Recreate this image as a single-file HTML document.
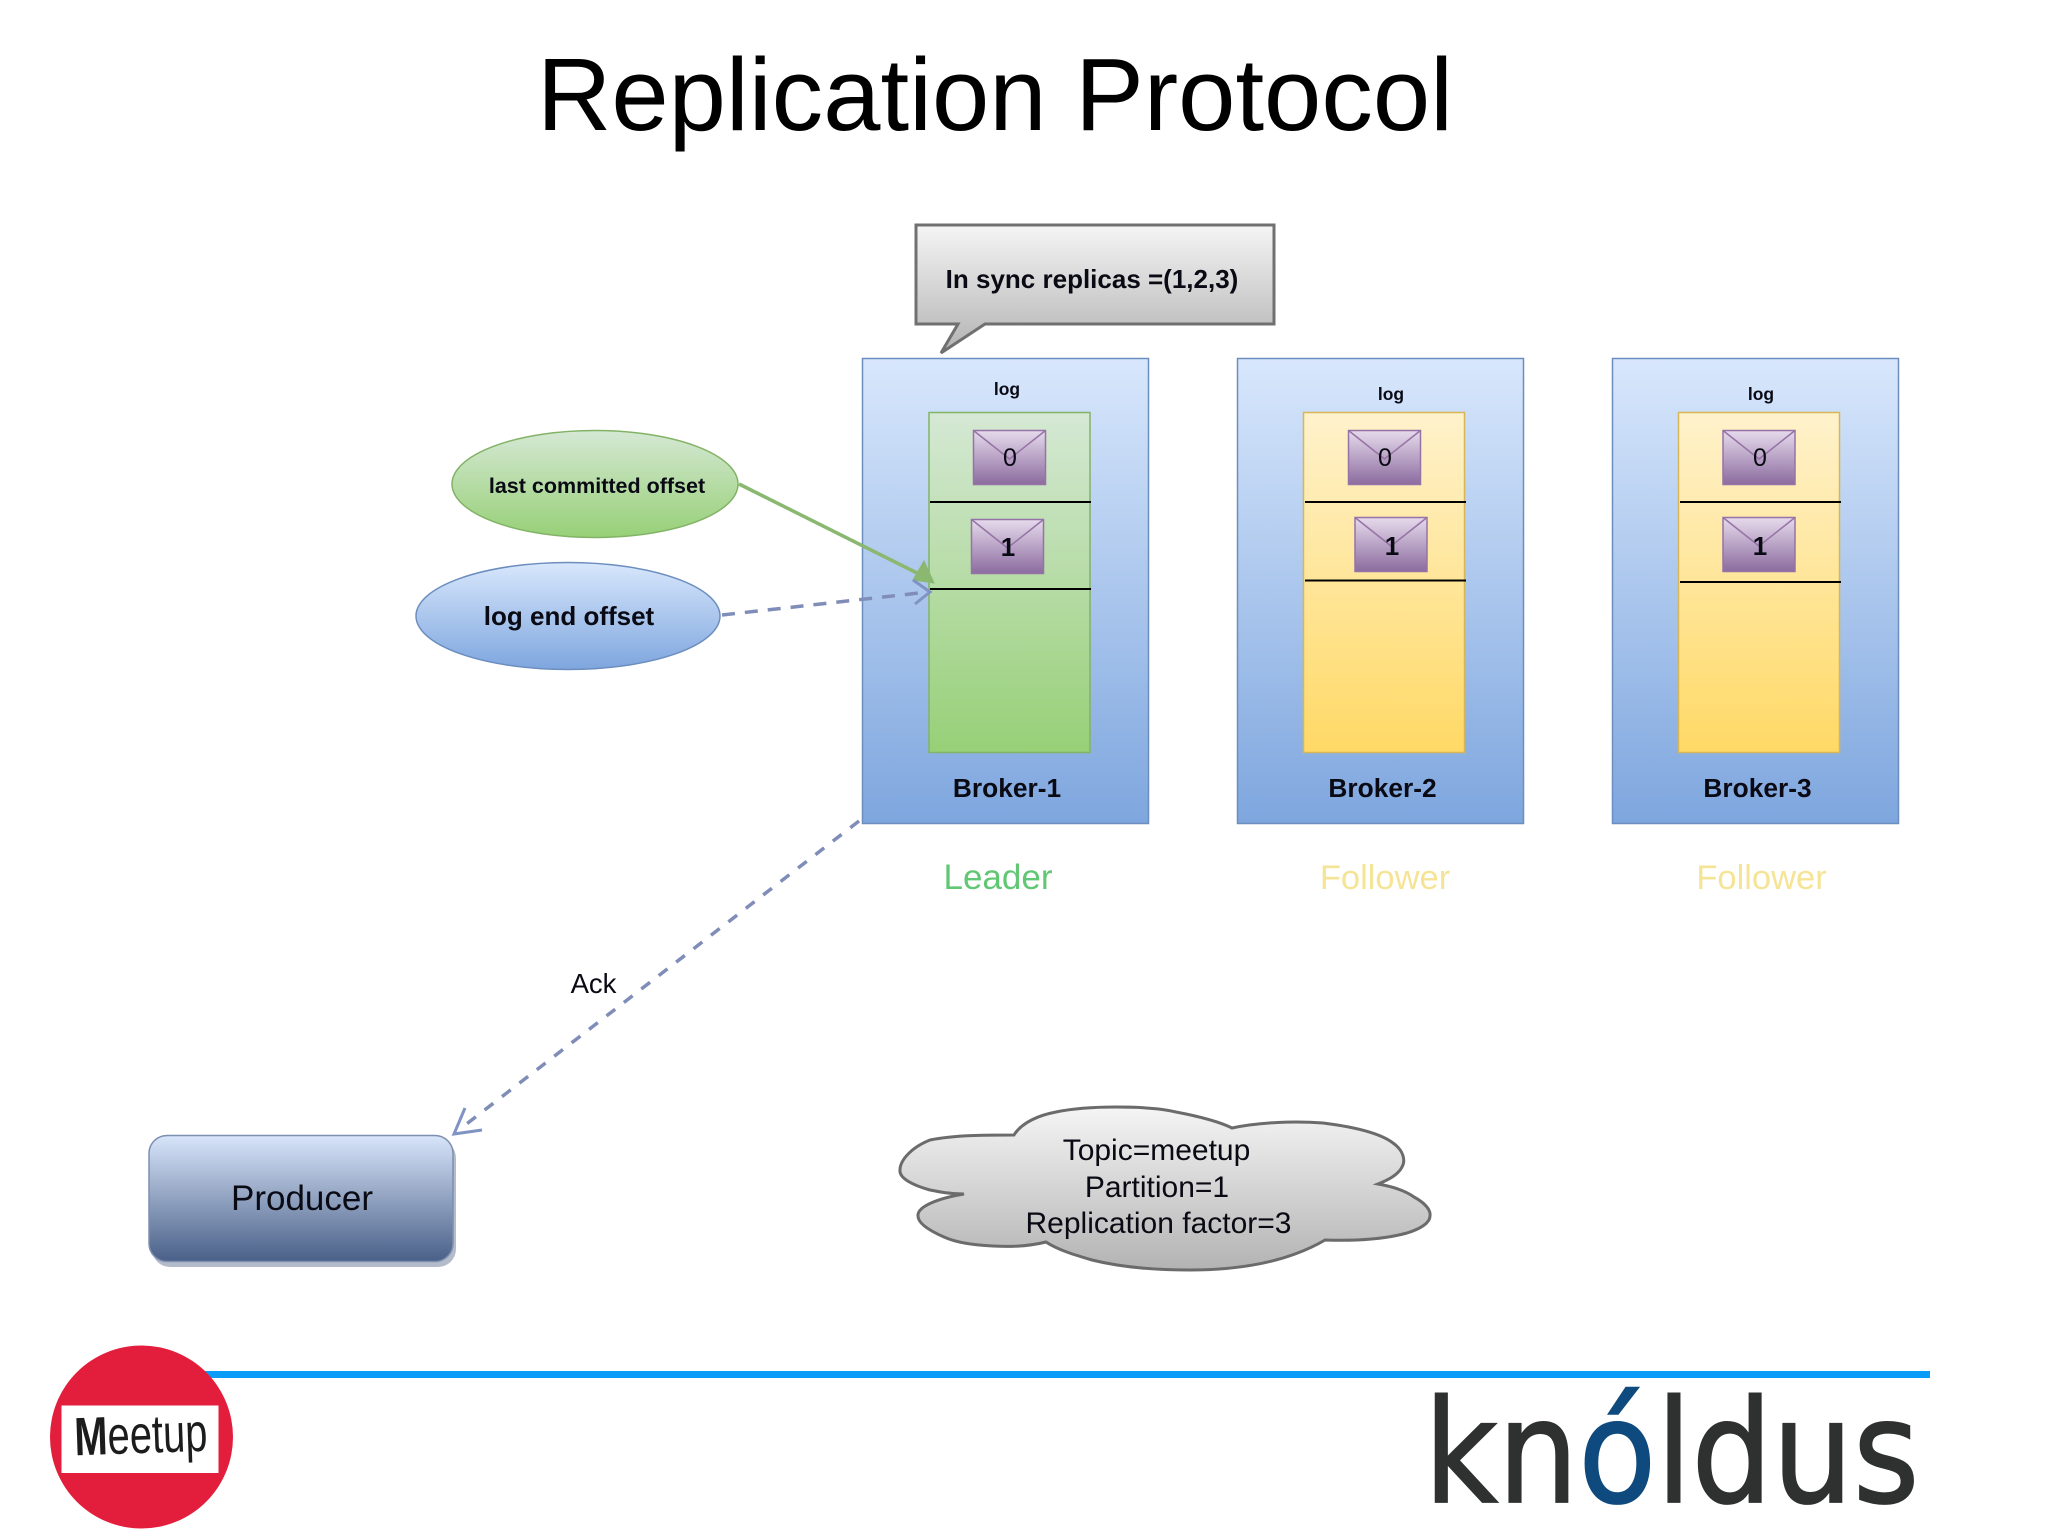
<!DOCTYPE html>
<html><head><meta charset="utf-8"><title>Replication Protocol</title>
<style>html,body{margin:0;padding:0;background:#fff}svg{display:block}text{font-family:"Liberation Sans",sans-serif;fill:#0a0a14}</style></head>
<body>
<svg xmlns="http://www.w3.org/2000/svg" width="2048" height="1535" viewBox="0 0 2048 1535">
<defs>
<linearGradient id="br" x1="0" y1="0" x2="0" y2="1"><stop offset="0" stop-color="#d8e7fc"/><stop offset="1" stop-color="#7ea6de"/></linearGradient>
<linearGradient id="gr" x1="0" y1="0" x2="0" y2="1"><stop offset="0" stop-color="#d5e8d4"/><stop offset="1" stop-color="#97d077"/></linearGradient>
<linearGradient id="ye" x1="0" y1="0" x2="0" y2="1"><stop offset="0" stop-color="#fff2cc"/><stop offset="1" stop-color="#ffd966"/></linearGradient>
<linearGradient id="en" x1="0" y1="0" x2="0" y2="1"><stop offset="0" stop-color="#e6daec"/><stop offset="1" stop-color="#8c6c9f"/></linearGradient>
<linearGradient id="gy" x1="0" y1="0" x2="0" y2="1"><stop offset="0" stop-color="#f5f5f5"/><stop offset="1" stop-color="#b3b3b3"/></linearGradient>
<linearGradient id="pr" x1="0" y1="0" x2="0" y2="1"><stop offset="0" stop-color="#d8e5fa"/><stop offset="1" stop-color="#4a6088"/></linearGradient>
</defs>
<rect width="2048" height="1535" fill="#fff"/>

<text x="995" y="130" font-size="103" text-anchor="middle" style="fill:#000">Replication Protocol</text>

<!-- callout -->
<path d="M916,225H1274V324H985L941,353L958,324H916Z" fill="url(#gy)" stroke="#707070" stroke-width="3"/>
<text x="1092" y="288" font-size="26" font-weight="700" text-anchor="middle">In sync replicas =(1,2,3)</text>

<!-- brokers -->
<rect x="862.5" y="358.5" width="286" height="465" fill="url(#br)" stroke="#6c8ebf" stroke-width="1.5"/>
<rect x="1237.5" y="358.5" width="286" height="465" fill="url(#br)" stroke="#6c8ebf" stroke-width="1.5"/>
<rect x="1612.5" y="358.5" width="286" height="465" fill="url(#br)" stroke="#6c8ebf" stroke-width="1.5"/>

<!-- logs -->
<rect x="929" y="412.5" width="161" height="340" fill="url(#gr)" stroke="#82b366" stroke-width="1.5"/>
<rect x="1303.5" y="412.5" width="161" height="340" fill="url(#ye)" stroke="#d6b656" stroke-width="1.5"/>
<rect x="1678.5" y="412.5" width="161" height="340" fill="url(#ye)" stroke="#d6b656" stroke-width="1.5"/>

<g stroke="#000" stroke-width="2">
<path d="M930,502H1091M930,589H1091M1305,502H1466M1305,580.500H1466M1680,502H1841M1680,582H1841"/>
</g>

<text x="1007" y="395" font-size="17.5" font-weight="700" text-anchor="middle">log</text>
<text x="1391" y="400" font-size="17.5" font-weight="700" text-anchor="middle">log</text>
<text x="1761" y="400" font-size="17.5" font-weight="700" text-anchor="middle">log</text>

<!-- envelopes -->
<g stroke="#9673a6" stroke-width="1.5" fill="url(#en)">
<rect x="973.500" y="430.5" width="72" height="54"/>
<rect x="971.500" y="519.5" width="72" height="54"/>
<rect x="1348.500" y="430.5" width="72" height="54"/>
<rect x="1355" y="517.5" width="72" height="54"/>
<rect x="1723" y="430.5" width="72" height="54"/>
<rect x="1723" y="517.5" width="72" height="54"/>
</g>
<g stroke="#9673a6" stroke-width="1.5" fill="none">
<path d="M973.500,430.5L1009.500,459L1045.500,430.5"/>
<path d="M971.500,519.5L1007.500,548L1043.500,519.500"/>
<path d="M1348.500,430.5L1384.500,459L1420.500,430.5"/>
<path d="M1355,517.5L1391,546L1427,517.500"/>
<path d="M1723,430.5L1759,459L1795,430.5"/>
<path d="M1723,517.5L1759,546L1795,517.500"/>
</g>
<text x="1010" y="466" font-size="25" text-anchor="middle">0</text>
<text x="1008" y="556" font-size="26" font-weight="700" text-anchor="middle">1</text>
<text x="1385" y="466" font-size="25" text-anchor="middle">0</text>
<text x="1392" y="555" font-size="26" font-weight="700" text-anchor="middle">1</text>
<text x="1760" y="466" font-size="25" text-anchor="middle">0</text>
<text x="1760" y="555" font-size="26" font-weight="700" text-anchor="middle">1</text>

<text x="1007" y="797" font-size="26.300" font-weight="700" text-anchor="middle">Broker-1</text>
<text x="1382.500" y="797" font-size="26.300" font-weight="700" text-anchor="middle">Broker-2</text>
<text x="1757.500" y="797" font-size="26.300" font-weight="700" text-anchor="middle">Broker-3</text>

<text x="998" y="889" font-size="35" text-anchor="middle" style="fill:#62c774">Leader</text>
<text x="1385" y="889" font-size="34.500" text-anchor="middle" style="fill:#f6e496">Follower</text>
<text x="1761.500" y="889" font-size="34.500" text-anchor="middle" style="fill:#f6e496">Follower</text>

<!-- ellipses -->
<ellipse cx="595" cy="484" rx="143" ry="53.500" fill="url(#gr)" stroke="#82b366" stroke-width="1.500"/>
<ellipse cx="568" cy="616" rx="152" ry="53.500" fill="url(#br)" stroke="#6c8ebf" stroke-width="1.500"/>
<text x="597" y="493" font-size="21.500" font-weight="700" text-anchor="middle">last committed offset</text>
<text x="569" y="625" font-size="26" font-weight="700" text-anchor="middle">log end offset</text>

<!-- arrows -->
<line x1="739" y1="484" x2="925" y2="577" stroke="#8bb870" stroke-width="3.500"/>
<path d="M934,583L913,580L924,561Z" fill="#8bb870" stroke="#8bb870" stroke-width="1"/>
<line x1="722" y1="615" x2="928" y2="592" stroke="#7f8db8" stroke-width="3.500" stroke-dasharray="13 10"/>
<path d="M913,580L930,592L915,604" fill="none" stroke="#7f93c4" stroke-width="3"/>
<line x1="859" y1="821" x2="460" y2="1129" stroke="#7f8db8" stroke-width="3.500" stroke-dasharray="11 11"/>
<path d="M465,1108L454,1134L482,1130" fill="none" stroke="#7f93c4" stroke-width="3"/>
<text x="593.500" y="993" font-size="27.500" text-anchor="middle">Ack</text>

<!-- producer -->
<rect x="152" y="1140" width="304" height="127" rx="18" fill="#b4bccb"/>
<rect x="149" y="1135.500" width="304" height="126" rx="18" fill="url(#pr)" stroke="#7d8fb0" stroke-width="1.500"/>
<text x="302" y="1210" font-size="35" text-anchor="middle">Producer</text>

<!-- cloud -->
<path d="M1014,1135C1022,1122 1040,1115 1056,1112C1075,1108 1095,1107 1116,1107C1140,1107 1160,1108 1176,1112C1197,1116 1218,1121 1232,1128C1260,1122 1295,1121 1323,1123C1355,1127 1380,1133 1393,1143C1403,1150 1406,1160 1402,1167C1398,1175 1388,1180 1378,1184C1395,1187 1406,1191 1414,1197C1425,1203 1431,1210 1430,1216C1430,1223 1420,1229 1407,1233C1385,1239 1355,1241 1325,1240C1315,1246 1306,1250 1295,1254C1265,1265 1230,1270 1190,1270C1155,1270 1120,1267 1092,1260C1075,1255 1058,1250 1046,1242C1030,1246 1010,1247 993,1246C970,1245 955,1242 944,1237C928,1230 918,1223 918,1216C917,1206 940,1198 964,1194C950,1194 940,1192 930,1190C912,1185 899,1178 900,1170C900,1160 912,1147 930,1140C955,1135 985,1135 1014,1135Z" fill="url(#gy)" stroke="#6b6b6b" stroke-width="3"/>
<text x="1156.500" y="1160" font-size="30" text-anchor="middle">Topic=meetup</text>
<text x="1157" y="1197" font-size="30" text-anchor="middle">Partition=1</text>
<text x="1158.500" y="1233" font-size="30" text-anchor="middle">Replication factor=3</text>

<!-- footer -->
<rect x="200" y="1371" width="1730" height="7" fill="#0a9cf9"/>
<circle cx="141.500" cy="1437" r="91.500" fill="#e31d3c"/>
<rect x="61.500" y="1405.500" width="157" height="67.500" fill="#fff"/>
<text x="141" y="1453" transform="rotate(-2 141 1440)" font-size="54" text-anchor="middle" textLength="133" lengthAdjust="spacingAndGlyphs" style="fill:#1c1c1c"><tspan font-weight="700">M</tspan>eetup</text>

<g transform="translate(1424,1502) scale(0.89,1)">
<text x="0" y="0" font-size="143" stroke="#2f3030" stroke-width="1.800" style="font-family:'DejaVu Sans',sans-serif;fill:#2f3030">kn<tspan stroke="#0e4a7e" style="fill:#0e4a7e">ó</tspan>ldus</text>
</g>
</svg>
</body></html>
